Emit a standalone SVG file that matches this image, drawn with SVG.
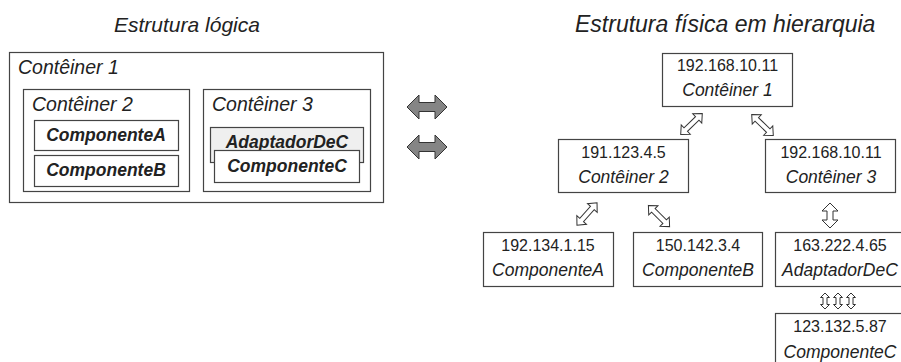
<svg xmlns="http://www.w3.org/2000/svg" xmlns:xlink="http://www.w3.org/1999/xlink" width="901" height="362" viewBox="0 0 901 362">
<style>
.box{fill:#fff;stroke:#444;stroke-width:1.2}
.gbox{fill:#efefef;stroke:#444;stroke-width:1.2}
.title{font-family:"Liberation Sans",Arial,sans-serif;font-style:italic;font-size:21px;fill:#222}
.title2{font-family:"Liberation Sans",Arial,sans-serif;font-style:italic;font-size:23px;fill:#222}
.lbl{font-family:"Liberation Sans",Arial,sans-serif;font-style:italic;font-size:19.5px;fill:#222}
.comp{font-family:"Liberation Sans",Arial,sans-serif;font-style:italic;font-weight:bold;font-size:17.5px;fill:#222;text-anchor:middle}
.ip{font-family:"Liberation Sans",Arial,sans-serif;font-size:16px;fill:#222;text-anchor:middle}
.nm{font-family:"Liberation Sans",Arial,sans-serif;font-style:italic;font-size:17.5px;fill:#222;text-anchor:middle}
.oarr{fill:#fff;stroke:#333;stroke-width:1;stroke-linejoin:miter}
.garr{fill:#858585;stroke:#333;stroke-width:1}
</style>
<defs>
<path id="dbl" d="M-15,0 L-8,-6.5 L-8,-2.5 L8,-2.5 L8,-6.5 L15,0 L8,6.5 L8,2.5 L-8,2.5 L-8,6.5 Z"/>
<path id="small" d="M0,-8 L4.5,-3.5 L2,-3.5 L2,3.5 L4.5,3.5 L0,8 L-4.5,3.5 L-2,3.5 L-2,-3.5 L-4.5,-3.5 Z"/>
</defs>
<rect width="901" height="362" fill="#fff"/>
<text class="title" x="114" y="32">Estrutura lógica</text>
<text class="title2" x="575" y="32">Estrutura física em hierarquia</text>

<g id="logico-conteiner1">
<rect class="box" x="9.5" y="52.5" width="374" height="150"/>
<text class="lbl" x="18" y="74">Contêiner 1</text>
</g>
<g id="logico-conteiner2">
<rect class="box" x="23.5" y="89.5" width="166" height="102"/>
<text class="lbl" x="32" y="111">Contêiner 2</text>
</g>
<g id="logico-componenteA">
<rect class="box" x="34.5" y="120.5" width="144" height="30"/>
<text class="comp" x="106" y="141">ComponenteA</text>
</g>
<g id="logico-componenteB">
<rect class="box" x="34.5" y="155.5" width="144" height="31"/>
<text class="comp" x="106" y="176">ComponenteB</text>
</g>
<g id="logico-conteiner3">
<rect class="box" x="203.5" y="89.5" width="167" height="102"/>
<text class="lbl" x="212" y="111">Contêiner 3</text>
</g>
<g id="logico-adaptador">
<rect class="gbox" x="210.5" y="127.5" width="153" height="35"/>
<text class="comp" x="287" y="148">AdaptadorDeC</text>
</g>
<g id="logico-componenteC">
<rect class="box" x="214.5" y="150.5" width="145" height="32"/>
<text class="comp" x="287" y="172">ComponenteC</text>
</g>

<g id="fisico-conteiner1">
<rect class="box" x="662.5" y="53.5" width="130" height="53"/>
<text class="ip" x="727.5" y="71">192.168.10.11</text>
<text class="nm" x="727.5" y="96">Contêiner 1</text>
</g>
<g id="fisico-conteiner2">
<rect class="box" x="558.5" y="139.5" width="130" height="53"/>
<text class="ip" x="623.5" y="158">191.123.4.5</text>
<text class="nm" x="623.5" y="183">Contêiner 2</text>
</g>
<g id="fisico-conteiner3">
<rect class="box" x="765.5" y="139.5" width="130" height="53"/>
<text class="ip" x="831" y="158">192.168.10.11</text>
<text class="nm" x="831" y="183">Contêiner 3</text>
</g>
<g id="fisico-componenteA">
<rect class="box" x="483.5" y="232.5" width="130" height="54"/>
<text class="ip" x="548" y="251">192.134.1.15</text>
<text class="nm" x="548" y="276">ComponenteA</text>
</g>
<g id="fisico-componenteB">
<rect class="box" x="633.5" y="232.5" width="129" height="54"/>
<text class="ip" x="698" y="251">150.142.3.4</text>
<text class="nm" x="698" y="276">ComponenteB</text>
</g>
<g id="fisico-adaptador">
<rect class="box" x="775.5" y="232.5" width="140" height="54"/>
<text class="ip" x="840" y="251">163.222.4.65</text>
<text class="nm" x="840" y="276">AdaptadorDeC</text>
</g>
<g id="fisico-componenteC">
<rect class="box" x="775.5" y="313.5" width="140" height="60"/>
<text class="ip" x="840" y="332">123.132.5.87</text>
<text class="nm" x="840" y="358">ComponenteC</text>
</g>

<g id="connectors">
<path class="garr" d="M407,107 L419,95 L419,102.5 L435,102.5 L435,95 L447,107 L435,119 L435,111.5 L419,111.5 L419,119 Z"/>
<path class="garr" d="M407,147 L419,135 L419,142.5 L435,142.5 L435,135 L447,147 L435,159 L435,151.5 L419,151.5 L419,159 Z"/>
<use xlink:href="#dbl" class="oarr" transform="translate(691.5,124) rotate(-44)"/>
<use xlink:href="#dbl" class="oarr" transform="translate(762.5,125) rotate(44)"/>
<use xlink:href="#dbl" class="oarr" transform="translate(587,214) rotate(-48)"/>
<use xlink:href="#dbl" class="oarr" transform="translate(659,216) rotate(45)"/>
<path class="oarr" d="M830,203 L838,211 L833,211 L833,220 L838,220 L830,228 L822,220 L827,220 L827,211 L822,211 Z"/>
<use xlink:href="#small" class="oarr" transform="translate(825,301)"/>
<use xlink:href="#small" class="oarr" transform="translate(838,301)"/>
<use xlink:href="#small" class="oarr" transform="translate(851,301)"/>
</g>
</svg>
